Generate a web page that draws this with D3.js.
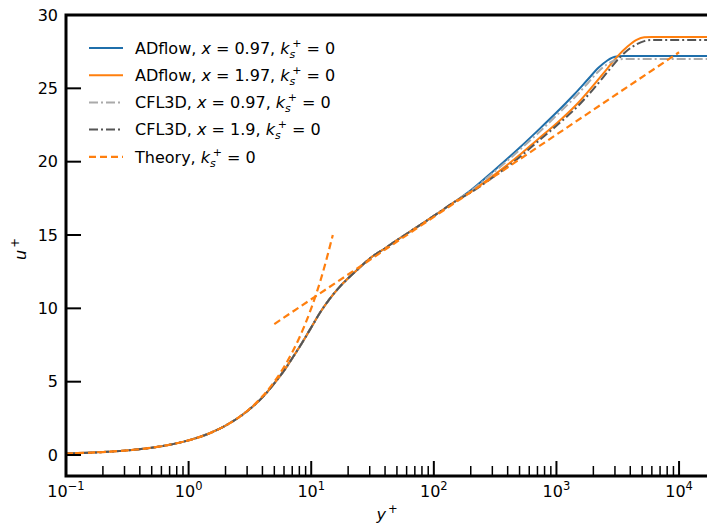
<!DOCTYPE html>
<html>
<head>
<meta charset="utf-8">
<script src="https://cdn.jsdelivr.net/npm/d3@7"></script>
<style>
  body { margin: 0; background: #fff; }
  svg { font-family: "DejaVu Sans", sans-serif; }
</style>
</head>
<body>
<svg id="chart" width="707" height="525"></svg>
<script>
// shared inner-layer profile (all four solutions collapse here)
const yInner = [0.1, 0.2, 0.3, 0.5, 0.7, 1, 1.5, 2, 3, 4, 5, 6, 7, 8, 9, 10, 12, 14, 17, 20, 25, 30, 40, 50, 70, 100, 150];
const uInner = [0.1, 0.2, 0.3, 0.5, 0.7, 1.0, 1.5, 2.0, 2.98, 3.93, 4.88, 5.75, 6.6, 7.35, 8.05, 8.7, 9.8, 10.6, 11.45, 12.05, 12.8, 13.4, 14.1, 14.65, 15.45, 16.3, 17.3];

// outer part of each profile
const yAd097 = [200, 300, 500, 700, 1000, 1400, 1800, 2200, 2600, 3000, 3500, 5000, 20000];
const uAd097 = [18.05, 19.3, 20.95, 22.1, 23.35, 24.6, 25.6, 26.4, 26.9, 27.15, 27.2, 27.2, 27.2];

const yAd197 = [200, 300, 500, 700, 1000, 1500, 2000, 2600, 3200, 3800, 4500, 5200, 6000, 20000];
const uAd197 = [17.95, 19.0, 20.45, 21.5, 22.6, 24.0, 25.2, 26.35, 27.25, 27.85, 28.3, 28.48, 28.5, 28.5];

const yCfl097 = [200, 300, 500, 700, 1000, 1400, 1800, 2200, 2600, 3000, 3500, 5000, 20000];
const uCfl097 = [18.0, 19.2, 20.8, 21.9, 23.15, 24.35, 25.35, 26.15, 26.65, 26.9, 27.0, 27.0, 27.0];

const yCfl19 = [200, 300, 500, 700, 1000, 1500, 2000, 2600, 3200, 3800, 4500, 5200, 6000, 20000];
const uCfl19 = [17.9, 18.9, 20.3, 21.35, 22.45, 23.8, 24.95, 26.1, 27.0, 27.6, 28.0, 28.22, 28.3, 28.3];

// theory: viscous sublayer and log law
const yVisc = [0.1, 0.2, 0.3, 0.5, 0.7, 1, 1.5, 2, 3, 4, 5, 6, 7, 8, 10, 12, 15];
const uVisc = [0.1, 0.2, 0.3, 0.5, 0.7, 1, 1.5, 2, 3, 4, 5, 6, 7, 8, 10, 12, 15];
const yLog = [5, 10000];
const uLog = [8.93, 27.46];

const yTicks = [0, 5, 10, 15, 20, 25, 30];
const xTicks = [0.1, 1, 10, 100, 1000, 10000];
const xTickExp = ["\u22121", "0", "1", "2", "3", "4"];

const legendNames = [
  ["ADflow, ", "x", " = 0.97, "],
  ["ADflow, ", "x", " = 1.97, "],
  ["CFL3D, ", "x", " = 0.97, "],
  ["CFL3D, ", "x", " = 1.9, "],
  ["Theory, ", "", ""]
];

const zip = (xs, ys) => xs.map((v, i) => [v, ys[i]]);

const series = [
  { pts: zip(yInner, uInner).concat(zip(yAd097, uAd097)), color: "#1f6fab", dash: null, w: 2 },
  { pts: zip(yInner, uInner).concat(zip(yAd197, uAd197)), color: "#ff7f0e", dash: null, w: 2 },
  { pts: zip(yInner, uInner).concat(zip(yCfl097, uCfl097)), color: "#aaaaaa", dash: "9,3,2,3", w: 2 },
  { pts: zip(yInner, uInner).concat(zip(yCfl19, uCfl19)), color: "#555555", dash: "9,3,2,3", w: 2 },
  { pts: zip(yVisc, uVisc), color: "#ff7f0e", dash: "7,4", w: 2.2 },
  { pts: zip(yLog, uLog), color: "#ff7f0e", dash: "7,4", w: 2.2 }
];

const svg = d3.select("#chart");
const pLeft = 66, pRight = 707, pTop = 15, pBottom = 476;

const x = d3.scaleLog().domain([0.1, 16900]).range([pLeft, pRight]);
const y = d3.scaleLinear().domain([-1.43, 30]).range([pBottom, pTop]);

svg.append("defs").append("clipPath").attr("id", "clip")
  .append("rect").attr("x", pLeft).attr("y", pTop).attr("width", pRight - pLeft + 10).attr("height", pBottom - pTop);

const line = d3.line().x(d => x(d[0])).y(d => y(d[1])).curve(d3.curveMonotoneX);

const plot = svg.append("g").attr("clip-path", "url(#clip)");
series.forEach(s => {
  plot.append("path")
    .attr("d", line(s.pts))
    .attr("fill", "none")
    .attr("stroke", s.color)
    .attr("stroke-width", s.w)
    .attr("stroke-dasharray", s.dash);
});

// ticks (inward)
const minor = [];
for (let e = -1; e <= 4; e++) {
  for (let m = 2; m <= 9; m++) {
    const v = m * Math.pow(10, e);
    if (v < 16900) minor.push(v);
  }
}
svg.append("g").selectAll("line").data(minor).join("line")
  .attr("x1", d => x(d)).attr("x2", d => x(d))
  .attr("y1", pBottom).attr("y2", pBottom - 10)
  .attr("stroke", "#000").attr("stroke-width", 1.5);
svg.append("g").selectAll("line").data(xTicks).join("line")
  .attr("x1", d => x(d)).attr("x2", d => x(d))
  .attr("y1", pBottom).attr("y2", pBottom - 15)
  .attr("stroke", "#000").attr("stroke-width", 2);
svg.append("g").selectAll("line").data(yTicks).join("line")
  .attr("x1", pLeft).attr("x2", pLeft + 15)
  .attr("y1", d => y(d)).attr("y2", d => y(d))
  .attr("stroke", "#000").attr("stroke-width", 2);

// spines
svg.append("path")
  .attr("d", `M${pRight + 5},${pTop}H${pLeft}V${pBottom}H${pRight + 5}`)
  .attr("fill", "none").attr("stroke", "#000").attr("stroke-width", 3);

// tick labels
svg.append("g").selectAll("text").data(yTicks).join("text")
  .attr("x", pLeft - 8).attr("y", d => y(d)).attr("dy", "0.36em")
  .attr("text-anchor", "end").attr("font-size", 16)
  .text(d => d);

const xl = svg.append("g").selectAll("text").data(xTicks).join("text")
  .attr("x", d => x(d)).attr("y", 497)
  .attr("text-anchor", "middle").attr("font-size", 16);
xl.append("tspan").text("10");
xl.append("tspan").attr("font-size", 11.5).attr("dy", -7).text((d, i) => xTickExp[i]);

// axis titles
const xt = svg.append("text").attr("x", 387).attr("y", 520)
  .attr("text-anchor", "middle").attr("font-size", 16);
xt.append("tspan").attr("font-style", "italic").text("y");
xt.append("tspan").attr("font-size", 11.5).attr("dy", -7).attr("dx", 2).text("+");

const yt = svg.append("text")
  .attr("transform", "translate(26,249) rotate(-90)")
  .attr("text-anchor", "middle").attr("font-size", 16);
yt.append("tspan").attr("font-style", "italic").text("u");
yt.append("tspan").attr("font-size", 11.5).attr("dy", -7).attr("dx", 2).text("+");

// legend
const legendStyles = series.slice(0, 5);
legendNames.forEach((nm, i) => {
  const ly = 48 + i * 27.2;
  const s = legendStyles[i];
  svg.append("line")
    .attr("x1", 89).attr("x2", 123).attr("y1", ly).attr("y2", ly)
    .attr("stroke", s.color).attr("stroke-width", s.w)
    .attr("stroke-dasharray", s.dash);
  const t = svg.append("text").attr("x", 135).attr("y", ly).attr("dy", "0.36em")
    .attr("font-size", 16);
  t.append("tspan").text(nm[0]);
  if (nm[1]) {
    t.append("tspan").attr("font-style", "italic").text(nm[1]);
    t.append("tspan").text(nm[2]);
  }
  t.append("tspan").attr("font-style", "italic").text("k");
  t.append("tspan").attr("font-style", "italic").attr("font-size", 11).attr("dy", 4).text("s");
  t.append("tspan").attr("font-size", 11).attr("dy", -11).attr("dx", -3).text("+");
  t.append("tspan").attr("dy", 7).text(" = 0");
});
</script>
</body>
</html>
